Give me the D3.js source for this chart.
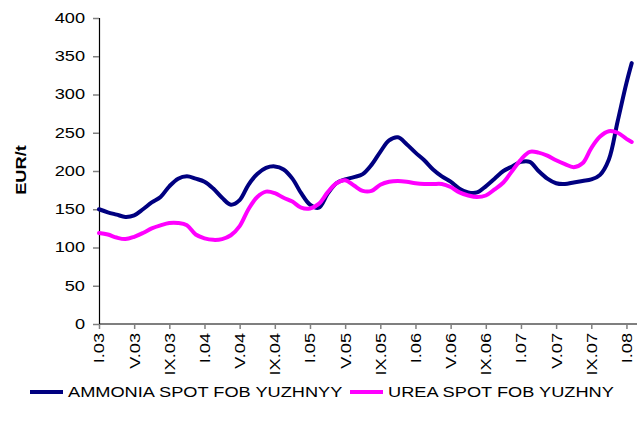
<!DOCTYPE html>
<html>
<head>
<meta charset="utf-8">
<script src="https://cdn.jsdelivr.net/npm/d3@7"></script>
<style>
  body { margin: 0; background: #fff; }
  svg { display: block; font-family: "Liberation Sans", Arial, sans-serif; }
</style>
</head>
<body>
<svg id="chart" width="638" height="430"></svg>
<script>
// ---------------------------------------------------------------------------
// Data — months counted from January 2003 (last reading mid-January 2008)
// ---------------------------------------------------------------------------
const months = [
   0,  1,  2,  3,  4,  5,  6,  7,  8,  9, 10, 11, 12, 13, 14, 15, 16, 17, 18, 19,
  20, 21, 22, 23, 24, 25, 26, 27, 28, 29, 30, 31, 32, 33, 34, 35, 36, 37, 38, 39,
  40, 41, 42, 43, 44, 45, 46, 47, 48, 49, 50, 51, 52, 53, 54, 55, 56, 57, 58, 59,
  60, 60.6
];

const ammonia = [
  150, 146, 143, 140, 142, 150, 159, 166, 180, 190, 193, 190, 186, 177, 165, 156, 162, 182, 196, 204,
  206, 202, 190, 171, 156, 152, 170, 184, 189, 192, 196, 208, 225, 240, 244, 235, 224, 214, 202, 193,
  186, 177, 172, 172, 180, 190, 200, 206, 212, 212, 200, 190, 184, 183, 185, 187, 189, 195, 215, 265,
  315, 341
];

const urea = [
  119, 117, 113, 111, 114, 119, 125, 129, 132, 132, 129, 117, 112, 110, 111, 116, 128, 150, 166, 173,
  171, 165, 160, 152, 151, 157, 172, 184, 188, 181, 174, 174, 182, 186, 187, 186, 184, 183, 183, 183,
  179, 172, 168, 166, 168, 176, 185, 200, 215, 225, 224, 220, 214, 209, 205, 210, 230, 245, 252, 250,
  242, 238
];

const tickMonths = [0, 4, 8, 12, 16, 20, 24, 28, 32, 36, 40, 44, 48, 52, 56, 60];
const tickLabels = [
  "I.03", "V.03", "IX.03", "I.04", "V.04", "IX.04", "I.05", "V.05",
  "IX.05", "I.06", "V.06", "IX.06", "I.07", "V.07", "IX.07", "I.08"
];
const yTicks = [0, 50, 100, 150, 200, 250, 300, 350, 400];

const seriesNames  = ["AMMONIA SPOT FOB YUZHNYY", "UREA SPOT FOB YUZHNY"];
const seriesColors = ["#000080", "#FF00FF"];

// ---------------------------------------------------------------------------
// Layout
// ---------------------------------------------------------------------------
const svg = d3.select("#chart");
const plot = { left: 99, right: 637, top: 18, bottom: 324 };
const FONT = "Liberation Sans, Arial, sans-serif";
const STRETCH = 1.3; // the source renders its Arial noticeably wide

const x = d3.scaleLinear().domain([0, 61.2]).range([plot.left, plot.right]);
const y = d3.scaleLinear().domain([0, 400]).range([plot.bottom, plot.top]);

// Y axis
const yAxis = svg.append("g")
  .attr("transform", `translate(${plot.left},0)`)
  .call(d3.axisLeft(y).tickValues(yTicks).tickSize(6).tickPadding(8));
yAxis.select(".domain").attr("stroke", "#000").attr("stroke-width", 1.2);
yAxis.selectAll(".tick line").attr("stroke", "#808080").attr("stroke-width", 1.5);
yAxis.selectAll(".tick text")
  .attr("font-size", 14).attr("fill", "#000").attr("font-family", FONT);

// X axis
const xAxis = svg.append("g")
  .attr("transform", `translate(0,${plot.bottom})`)
  .call(d3.axisBottom(x).tickValues(tickMonths).tickSize(5)
    .tickFormat((d, i) => tickLabels[i]));
xAxis.select(".domain").attr("stroke", "#000").attr("stroke-width", 1.2)
  .attr("d", `M${plot.left},0H${plot.right}`);
xAxis.selectAll(".tick line").attr("stroke", "#808080").attr("stroke-width", 1.5);
xAxis.selectAll(".tick text")
  .attr("font-size", 14).attr("fill", "#000").attr("font-family", FONT)
  .attr("transform", "rotate(-90)")
  .attr("text-anchor", "end")
  .attr("x", -9).attr("y", 0).attr("dy", "0.35em");

// Y axis title
svg.append("text")
  .attr("transform", "translate(26,170) rotate(-90)")
  .attr("text-anchor", "middle")
  .attr("font-size", 14).attr("font-weight", "bold")
  .text("EUR/t");

// Lines
const series = [ammonia, urea];
const line = d3.line()
  .x((d, i) => x(months[i]))
  .y(d => y(d))
  .curve(d3.curveCatmullRom.alpha(0.5));

series.forEach((vals, k) => {
  svg.append("path")
    .datum(vals)
    .attr("fill", "none")
    .attr("stroke", seriesColors[k])
    .attr("stroke-width", 4)
    .attr("stroke-linejoin", "round")
    .attr("stroke-linecap", "round")
    .attr("d", line);
});

// Legend
const legendX = [30, 350];
const legend = svg.append("g").attr("transform", "translate(0,392)");
seriesNames.forEach((name, k) => {
  legend.append("line")
    .attr("x1", legendX[k]).attr("x2", legendX[k] + 33)
    .attr("y1", 0).attr("y2", 0)
    .attr("stroke", seriesColors[k]).attr("stroke-width", 4);
  legend.append("text")
    .attr("x", legendX[k] + 38).attr("y", 0).attr("dy", "0.35em")
    .attr("font-size", 14)
    .text(name);
});

// Widen every label along its own direction to match the source's wide lettering.
svg.selectAll("text").each(function () {
  const w = this.getComputedTextLength();
  d3.select(this)
    .attr("textLength", w * STRETCH)
    .attr("lengthAdjust", "spacingAndGlyphs");
});
</script>
</body>
</html>
